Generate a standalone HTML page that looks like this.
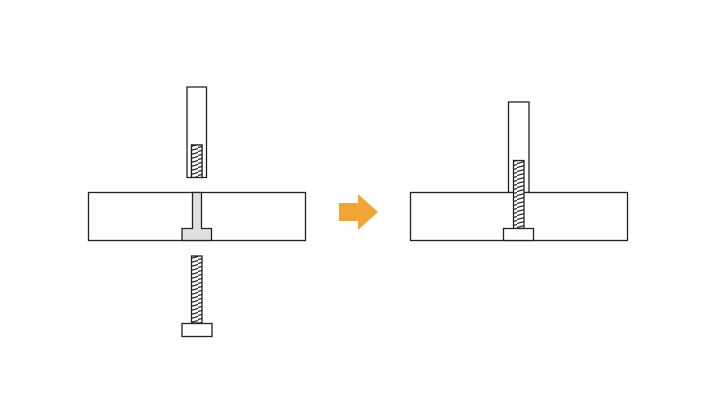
<!DOCTYPE html>
<html><head><meta charset="utf-8"><style>html,body{margin:0;padding:0;background:#fff}svg{display:block}</style></head>
<body>
<svg width="720" height="405" viewBox="0 0 720 405" xmlns="http://www.w3.org/2000/svg">
<defs>
<pattern id="h" patternUnits="userSpaceOnUse" width="11" height="4">
<rect width="11" height="4" fill="#fff"/>
<line x1="0" y1="3.5" x2="11" y2="0.5" stroke="#222" stroke-width="1.2"/>
</pattern>
</defs>
<g fill="none" stroke="#222" stroke-width="1.3">
<path d="M187 177.5 V87 H206.5 V177.5 H202 V145 H191.5 V177.5 Z" fill="#fff"/>
<rect x="191.5" y="145" width="10.5" height="32.5" fill="url(#h)"/>
<rect x="88.5" y="192.5" width="217" height="48" fill="#fff"/>
<path d="M192.5 192.5 V228.5 H182 V240.5 H211.5 V228.5 H201.5 V192.5 Z" fill="#e0e0e0"/>
<rect x="191.5" y="256" width="10.5" height="67" fill="url(#h)"/>
<rect x="182" y="323.5" width="30" height="13" fill="#fff"/>
<rect x="508.5" y="102" width="20.5" height="90.5" fill="#fff"/>
<rect x="410.5" y="192.5" width="217" height="48" fill="#fff"/>
<rect x="513.5" y="160.5" width="10.5" height="68" fill="url(#h)"/>
<rect x="503.5" y="228.5" width="30" height="12" fill="#fff"/>
</g>
<polygon points="339,203 358,203 358,194 378,212 358,230 358,221 339,221" fill="#f0a534"/>
</svg>
</body></html>
